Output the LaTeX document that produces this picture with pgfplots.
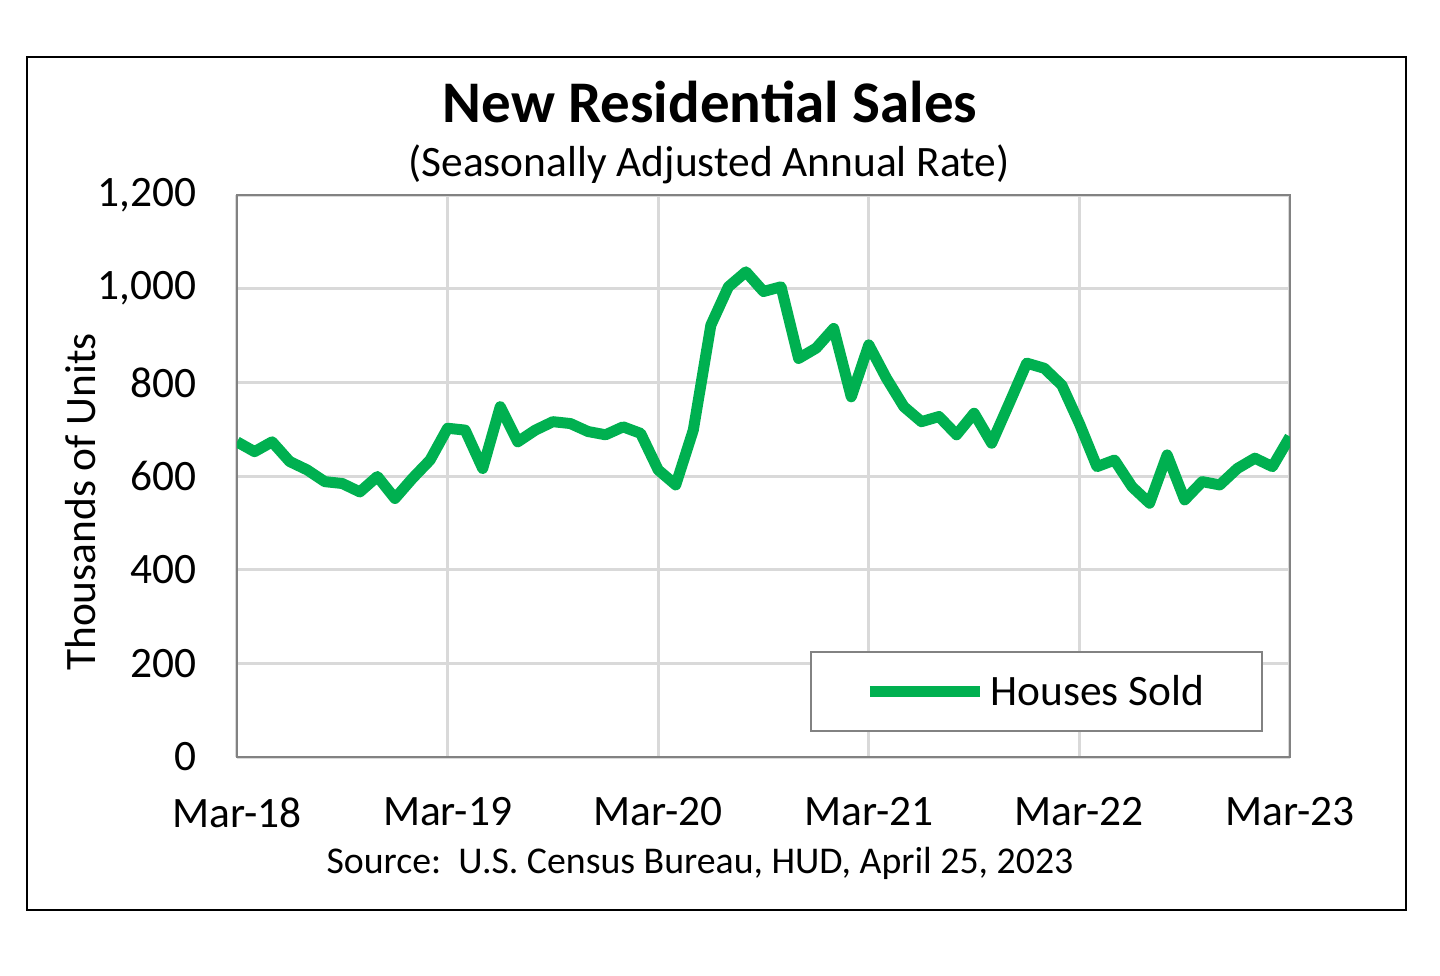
\documentclass[border=0pt]{standalone}
\usepackage{pgfplots}
\pgfplotsset{compat=1.18}
\usepackage{fontspec}
\setmainfont{Carlito}
\definecolor{linegreen}{RGB}{0,176,80}
\definecolor{gridgray}{RGB}{217,217,217}
\definecolor{axgray}{RGB}{130,130,130}
\begin{document}
\begin{tikzpicture}
\path (0pt,0pt) rectangle (720pt,-487.5pt);
\draw[line width=1pt,black] (13.5pt,-28.5pt) rectangle (703pt,-455pt);
\node[font=\fontsize{29.5}{34}\selectfont\bfseries] at (355pt,-51pt) {New Residential Sales};
\node[font=\fontsize{21.7}{26}\selectfont] at (354.5pt,-82pt) {(Seasonally Adjusted Annual Rate)};
\node[font=\fontsize{18.9}{23}\selectfont] at (350pt,-431.5pt) {Source:\ \ U.S. Census Bureau, HUD, April 25, 2023};
\begin{axis}[
  at={(118.5pt,-378.5pt)}, anchor=south west,
  scale only axis, width=526.5pt, height=281pt,
  xmin=0, xmax=60, ymin=0, ymax=1200,
  xtick={0,12,24,36,48,60},
  xticklabels={Mar-18,Mar-19,Mar-20,Mar-21,Mar-22,Mar-23},
  ytick={0,200,400,600,800,1000,1200},
  /pgf/number format/assume math mode=true,
  /pgf/number format/1000 sep={,},
  tick style={draw=none},
  grid=major,
  major grid style={draw=gridgray, line width=1.5pt},
  axis line style={draw=axgray, line width=1.2pt},
  ticklabel style={font=\fontsize{21.7}{26}\selectfont},
  xticklabel style={inner sep=0pt, yshift=-20pt},
  yticklabel style={inner sep=0pt, xshift=-20pt},
  ylabel={Thousands of Units},
  ylabel style={font=\fontsize{21.7}{26}\selectfont, at={(axis description cs:-0.149,0.454)}, anchor=center},
  legend style={at={(0.9744,0.0445)}, anchor=south east, draw=axgray, line width=1pt,
    font=\fontsize{21.7}{26}\selectfont, inner xsep=26.5pt, inner ysep=9pt,
    nodes={inner sep=2.5pt}},
  legend image code/.code={\draw[#1, line width=5.5pt] (0pt,0pt) -- (55pt,0pt);},
]
\addplot[linegreen, line width=5.5pt, line join=round] coordinates {
(0,673) (1,652) (2,673) (3,631) (4,613) (5,588) (6,584) (7,566) (8,599) (9,552)
(10,595) (11,634) (12,702) (13,698) (14,616) (15,748) (16,673) (17,698) (18,716) (19,712)
(20,695) (21,688) (22,705) (23,691) (24,613) (25,581) (26,698) (27,922) (28,1004) (29,1036)
(30,994) (31,1004) (32,851) (33,873) (34,915) (35,769) (36,880) (37,809) (38,748) (39,716)
(40,727) (41,688) (42,734) (43,670) (44,755) (45,841) (46,830) (47,794) (48,712) (49,620)
(50,634) (51,577) (52,542) (53,645) (54,549) (55,588) (56,581) (57,616) (58,638) (59,620)
(60,684)
};
\addlegendentry{Houses Sold}
\end{axis}
\end{tikzpicture}
\end{document}
